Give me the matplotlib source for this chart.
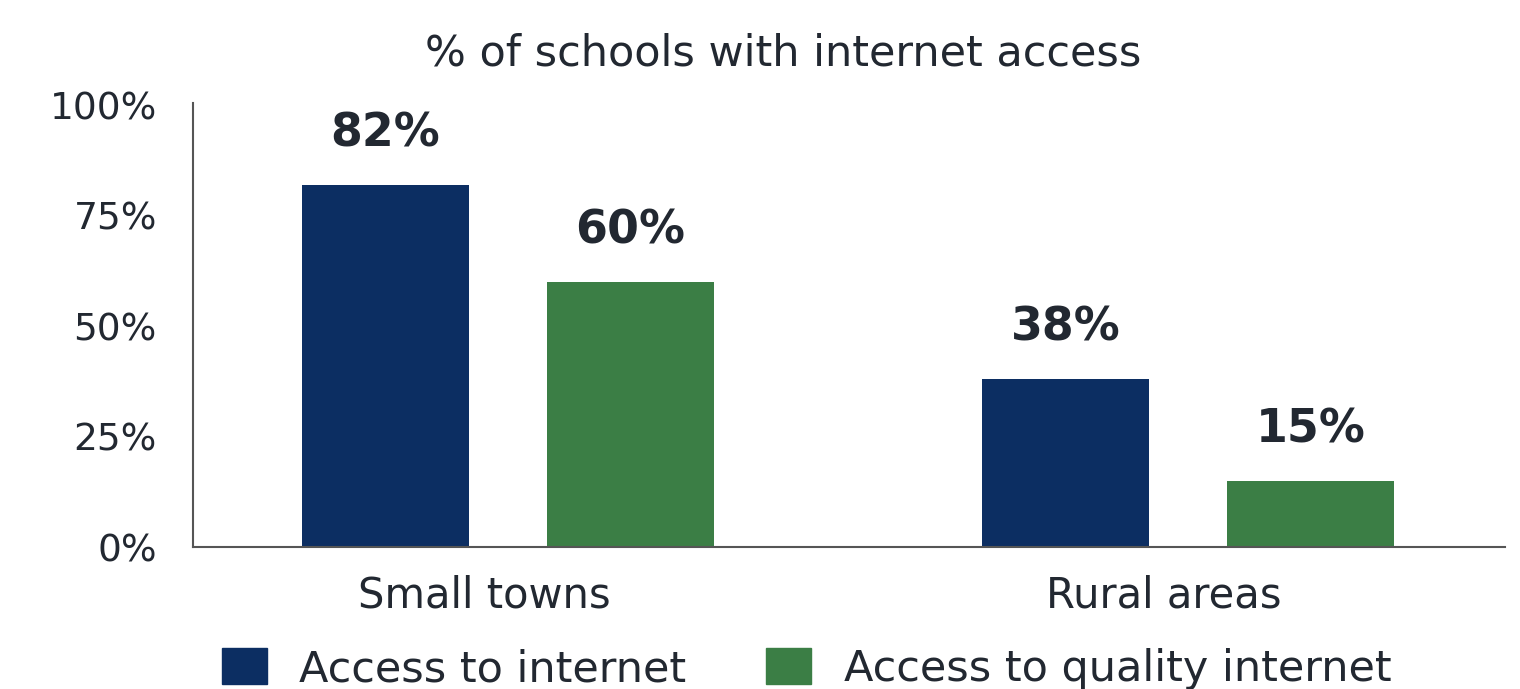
import numpy as np
import matplotlib.pyplot as plt
from matplotlib.patches import Patch

plt.rcParams['font.family'] = ['DejaVu Sans']

categories = ['Small towns', 'Rural areas']
series_names = ['Access to internet', 'Access to quality internet']
internet = [82, 38]
quality = [60, 15]
yticks = [0, 25, 50, 75, 100]
ytick_labels = ['0%', '25%', '50%', '75%', '100%']

blue = '#0c2e62'
green = '#3b7e45'
text_col = '#222831'

fig = plt.figure(figsize=(15.2, 6.89), dpi=100)
ax = fig.add_axes([0.127, 0.206, 0.863, 0.644])

x = np.arange(len(categories))
off = 0.18
w = 0.245
b1 = ax.bar(x - off, internet, w, color=blue)
b2 = ax.bar(x + off, quality, w, color=green)

# value labels above the bars
for bars, vals in [(b1, internet), (b2, quality)]:
    for b, v in zip(bars, vals):
        ax.text(b.get_x() + b.get_width() / 2, v + 6.5, f'{v}%', ha='center', va='bottom',
                fontsize=33, fontweight='bold', color=text_col)

ax.set_xlim(-0.463, 1.466)
ax.set_ylim(0, 100.5)
ax.set_yticks(yticks)
ax.set_yticklabels(ytick_labels, fontsize=27, color=text_col)
ax.set_xticks(x - 0.035)
ax.set_xticklabels(categories, fontsize=30, color=text_col)
ax.tick_params(axis='both', length=0)
ax.tick_params(axis='x', pad=20)
ax.tick_params(axis='y', pad=26)

for s in ['top', 'right']:
    ax.spines[s].set_visible(False)
for s in ['left', 'bottom']:
    ax.spines[s].set_color('#555555')
    ax.spines[s].set_linewidth(1.5)

fig.text(0.515, 0.922, '% of schools with internet access', ha='center', va='center',
         fontsize=31, color=text_col)

handles = [Patch(color=blue, label=series_names[0]), Patch(color=green, label=series_names[1])]
fig.legend(handles=handles, loc='lower center', bbox_to_anchor=(0.5306, -0.058), ncol=2,
           frameon=False, fontsize=31, handlelength=1.05, handleheight=0.9,
           columnspacing=1.85, handletextpad=0.75, labelcolor=text_col)

fig.savefig('out.png', dpi=100, facecolor='white')
